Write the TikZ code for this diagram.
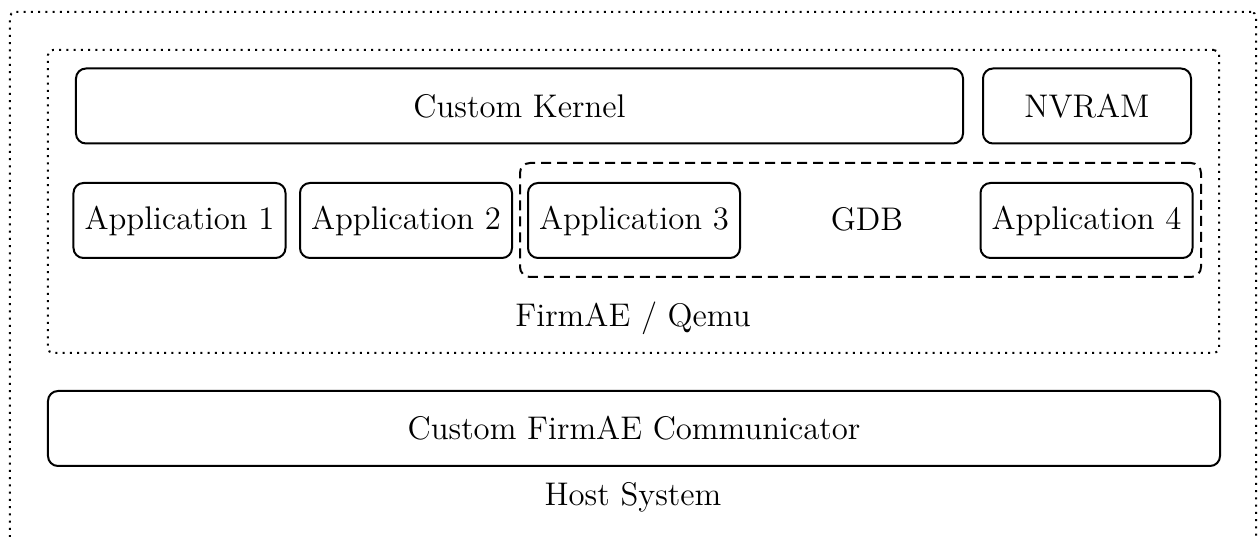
\documentclass[tikz,border=0pt]{standalone}
\usetikzlibrary{positioning}
\newcommand{\mainsize}{\fontsize{13.1}{15}\selectfont}
\tikzset{
  px/.style     = {x=0.4pt, y=-0.4pt},
  layer/.style  = {draw, line width=0.8pt, dash pattern=on 0.8pt off 2.1pt,
                   rounded corners=2pt, inner sep=0pt},
  unit/.style   = {draw, line width=0.8pt, rounded corners=4pt, inner sep=0pt,
                   minimum height=30pt, font=\mainsize},
  app/.style    = {unit, minimum width=84.8pt},
  group/.style  = {draw, line width=0.8pt, dash pattern=on 4pt off 2.4pt,
                   rounded corners=4pt, inner sep=0pt},
  caption/.style= {font=\mainsize, inner sep=0pt},
}
\begin{document}
\begin{tikzpicture}[px]
  \useasboundingbox (0,0) rectangle (1258,537);

  % host and emulator layers
  \node[layer, minimum width=498.4pt, minimum height=219.2pt] (host) at (633,286) {};
  \node[layer, minimum width=468.4pt, minimum height=121.2pt] (emu) at (633.5,201.5) {};

  % emulated system
  \node[unit, minimum width=354.8pt] (kernel) at (519.5,106) {Custom Kernel};
  \node[unit, minimum width=83.2pt] (nvram) at (1087,106) {NVRAM};

  \node[group, minimum width=272.4pt, minimum height=45.6pt] (gdbarea) at (860.5,220) {};
  \node[app] (app1) at (179.5,220.5) {Application 1};
  \node[app] (app2) at (406,220.5) {Application 2};
  \node[app] (app3) at (634,220.5) {Application 3};
  \node[app] (app4) at (1086.5,220.5) {Application 4};
  \node[caption] (gdb) at (867,219) {GDB};
  \node[caption] (emulabel) at (633,318) {FirmAE / Qemu};

  % host side
  \node[unit, minimum width=468.8pt] (comm) at (634,428.5) {Custom FirmAE Communicator};
  \node[caption] (hostlabel) at (633,497) {Host System};
\end{tikzpicture}
\end{document}
